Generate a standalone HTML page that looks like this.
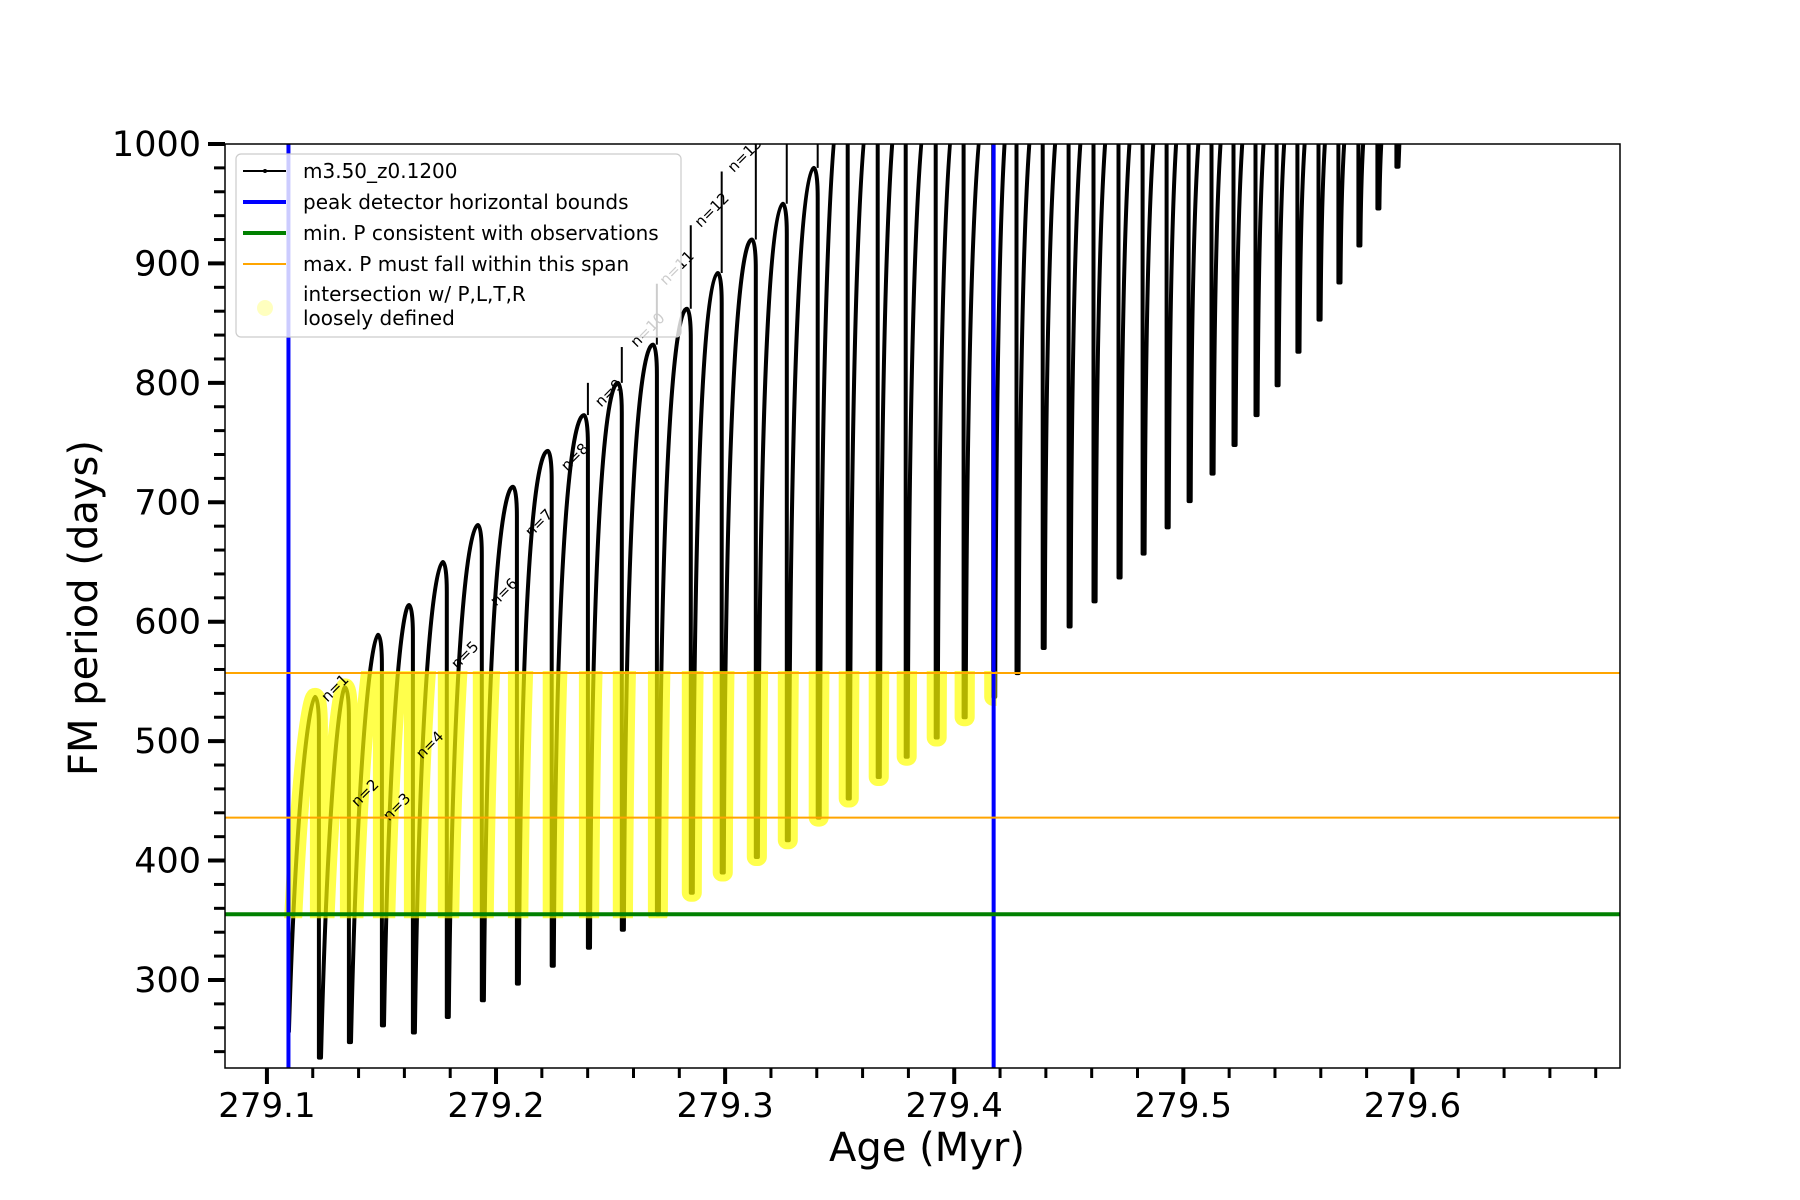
<!DOCTYPE html>
<html><head><meta charset="utf-8"><style>
html,body{margin:0;padding:0;background:#fff;}
svg{display:block;font-family:"DejaVu Sans","Liberation Sans",sans-serif;}
</style></head><body>
<svg id="chart" width="1800" height="1200" viewBox="0 0 1800 1200" xmlns="http://www.w3.org/2000/svg">
<defs>
<clipPath id="axclip"><rect x="225" y="144" width="1395" height="924"/></clipPath>
<clipPath id="yclip"><rect id="yclipRect" x="0" y="0" width="0" height="0"/></clipPath>
</defs>
<rect x="225" y="144" width="1395" height="924" fill="#fff"/>
<g id="series" clip-path="url(#axclip)"></g>
<g id="refs" clip-path="url(#axclip)"></g>
<rect x="225" y="144" width="1395" height="924" fill="none" stroke="#000" stroke-width="1.5"/>
<g id="ticks"></g>
<text x="927" y="1161" font-size="40" text-anchor="middle">Age (Myr)</text>
<text x="0" y="0" font-size="40" text-anchor="middle" transform="translate(97,608) rotate(-90)">FM period (days)</text>
<g id="legend">
<rect x="236" y="154" width="445" height="183" rx="5" fill="#fff" fill-opacity="0.8" stroke="#ccc" stroke-width="1.2"/>
<g><line x1="243" y1="171" x2="286" y2="171" stroke="#000" stroke-width="2"/><circle cx="265" cy="171" r="2" fill="#000"/><text x="303" y="178" font-size="20">m3.50_z0.1200</text></g>
<g><line x1="243" y1="202" x2="286" y2="202" stroke="#0000ff" stroke-width="4"/><text x="303" y="209" font-size="20">peak detector horizontal bounds</text></g>
<g><line x1="243" y1="233" x2="286" y2="233" stroke="#008000" stroke-width="4"/><text x="303" y="240" font-size="20">min. P consistent with observations</text></g>
<g><line x1="243" y1="264" x2="286" y2="264" stroke="#ffa500" stroke-width="2"/><text x="303" y="271" font-size="20">max. P must fall within this span</text></g>
<g><circle cx="265" cy="308" r="8" fill="#ffff00" fill-opacity="0.25"/><text x="303" y="301" font-size="20">intersection w/ P,L,T,R</text><text x="303" y="325" font-size="20">loosely defined</text></g>
</g>
</svg>
<script>
const startAge = 279.1096;
const startPeriod = 256;
const dropAges = [279.1227,279.1358,279.1502,279.1637,279.1785,279.1938,279.2091,279.2243,279.2401,279.2549,279.2702,279.2850,279.2985,279.3134,279.3269,279.3404,279.3535,279.3666,279.3788,279.3919,279.4041,279.4170,279.4272,279.4386,279.4499,279.4608,279.4717,279.4822,279.4927,279.5023,279.5123,279.5219,279.5315,279.5407,279.5498,279.5590,279.5677,279.5764,279.5847,279.5930];
const minPeriods = [235,248,262,256,269,283,297,312,327,342,355,373,390,403,417,436,452,470,487,503,520,537,557,578,596,617,637,657,679,701,724,748,773,798,826,853,884,915,946,981];
const peakPeriods = [537,545,589,614,650,681,713,743,773,800,832,862,892,920,950,980,1050,1050,1050,1050,1050,1050,1050,1050,1050,1050,1050,1050,1050,1050,1050,1050,1050,1050,1050,1050,1050,1050,1050,1050];
const spikePeriods = [null,null,null,null,null,null,null,null,800,830,883,932,977,1015,1015,1015,null,null,null,null,null,null,null,null,null,null,null,null,null,null,null,null,null,null,null,null,null,null,null,null];
const endAge = 279.5945;
const endPeriod = 1010;
const xTicks = [279.1,279.2,279.3,279.4,279.5,279.6];
const xTickLabels = ["279.1","279.2","279.3","279.4","279.5","279.6"];
const yTicks = [300,400,500,600,700,800,900,1000];
const yTickLabels = ["300","400","500","600","700","800","900","1000"];
const blueBounds = [279.1094, 279.4172];
const minPObs = 355;
const maxPSpan = [436, 557];
const nLabels = ["n=1","n=2","n=3","n=4","n=5","n=6","n=7","n=8","n=9","n=10","n=11","n=12","n=13"];
const nLabelAges = [279.1297,279.1428,279.1567,279.1711,279.1864,279.2034,279.2187,279.2344,279.2492,279.2662,279.2789,279.2942,279.3086];
const nLabelPeriods = [544.5,456.6,444.9,496.8,572.1,624.9,682.7,737.9,791.5,844.3,896.2,944.7,990.8];

const X0=225,X1=1620,Y0=144,Y1=1068;
const xMin=279.0817,xMax=279.6906,yMin=226.3,yMax=1000;
const xs=a=>X0+(a-xMin)/(xMax-xMin)*(X1-X0);
const ys=p=>Y1-(p-yMin)/(yMax-yMin)*(Y1-Y0);
const NS="http://www.w3.org/2000/svg";
function mk(tag,attrs,parent){const e=document.createElementNS(NS,tag);for(const k in attrs)e.setAttribute(k,attrs[k]);parent.appendChild(e);return e;}
const series=document.getElementById('series');
const refs=document.getElementById('refs');
const ticks=document.getElementById('ticks');

const riseOff=0.0009, peakOff=0.0017;
let d="";
function cycle(a0,m0,aNext,p,mNext,idx){
  const w=aNext-a0;
  const pk=aNext-Math.min(peakOff,w*0.3);
  const t=Math.min(1,Math.max(0,(idx-1)/6));
  const c1x=0.25+(0.07-0.25)*t, c1y=0.75+(0.85-0.75)*t, c2x=0.15+(0.3-0.15)*t;
  d+=` L${xs(a0).toFixed(1)},${ys(m0).toFixed(1)}`;
  d+=` C${xs(a0+c1x*w).toFixed(1)},${ys(m0+c1y*(p-m0)).toFixed(1)} ${xs(pk-c2x*w).toFixed(1)},${ys(p).toFixed(1)} ${xs(pk).toFixed(1)},${ys(p).toFixed(1)}`;
  d+=` C${xs(pk+0.6*(aNext-pk)).toFixed(1)},${ys(p).toFixed(1)} ${xs(aNext).toFixed(1)},${ys(p-10).toFixed(1)} ${xs(aNext).toFixed(1)},${ys(p-25).toFixed(1)}`;
  d+=` L${xs(aNext).toFixed(1)},${ys(mNext).toFixed(1)}`;
}
d=`M${xs(startAge).toFixed(1)},${ys(startPeriod).toFixed(1)}`;
cycle(startAge,startPeriod,dropAges[0],peakPeriods[0],minPeriods[0],0);
for(let i=0;i<dropAges.length-1;i++){
  cycle(dropAges[i]+riseOff,minPeriods[i],dropAges[i+1],peakPeriods[i+1],minPeriods[i+1],i+1);
}
{
  const i=dropAges.length-1;
  d+=` L${xs(dropAges[i]+riseOff).toFixed(1)},${ys(minPeriods[i]).toFixed(1)} L${xs(endAge).toFixed(1)},${ys(endPeriod).toFixed(1)}`;
}
const blackPath=mk('path',{d:d,fill:'none',stroke:'#000','stroke-width':4,'stroke-linejoin':'round'},series);


for(let i=0;i<dropAges.length;i++){
  if(spikePeriods[i]===null) continue;
  const s=mk('line',{x1:xs(dropAges[i]),x2:xs(dropAges[i]),y1:ys(peakPeriods[i]),y2:ys(spikePeriods[i]),stroke:'#000','stroke-width':2},series);
  
  
}
const cr=document.getElementById('yclipRect');
cr.setAttribute('x',X0);cr.setAttribute('y',ys(maxPSpan[1])-2);
cr.setAttribute('width',xs(blueBounds[1])-X0+3);
cr.setAttribute('height',ys(minPObs)-ys(maxPSpan[1])+6);
const yp=mk('path',{d:d,fill:'none',stroke:'#ffff00','stroke-opacity':0.7,'stroke-width':18,'stroke-linejoin':'round','stroke-linecap':'round','clip-path':'url(#yclip)'},series);


function hline(p,color,w,name){const l=mk('line',{x1:X0,x2:X1,y1:ys(p),y2:ys(p),stroke:color,'stroke-width':w},refs);}
function vline(a,color,w,name){const l=mk('line',{x1:xs(a),x2:xs(a),y1:Y0,y2:Y1,stroke:color,'stroke-width':w},refs);}
vline(blueBounds[0],'#0000ff',4,'peak-bound-left');
vline(blueBounds[1],'#0000ff',4,'peak-bound-right');
hline(minPObs,'#008000',4,'min-period-line');
hline(maxPSpan[0],'#ffa500',2,'max-period-lower');
hline(maxPSpan[1],'#ffa500',2,'max-period-upper');
for(let i=0;i<nLabels.length;i++){
  const x=xs(nLabelAges[i]),y=ys(nLabelPeriods[i]);
  const t=mk('text',{x:x,y:y+5,'font-size':15,'text-anchor':'middle',transform:`rotate(-45 ${x} ${y})`},series);
  t.textContent=nLabels[i];
  
  
}
for(let i=0;i<xTicks.length;i++){
  const x=xs(xTicks[i]);
  mk('line',{x1:x,x2:x,y1:Y1,y2:Y1+16,stroke:'#000','stroke-width':4},ticks);
  const t=mk('text',{x:x,y:1117,'font-size':34,'text-anchor':'middle'},ticks);
  t.textContent=xTickLabels[i];
  
  
}
for(let k=0;k<40;k++){
  const a=279.08+k*0.02;
  if(a<xMin||a>xMax) continue;
  if(Math.abs((a*10)-Math.round(a*10))<1e-6) continue;
  const x=xs(a);
  mk('line',{x1:x,x2:x,y1:Y1,y2:Y1+10,stroke:'#000','stroke-width':3},ticks);
}
for(let i=0;i<yTicks.length;i++){
  const y=ys(yTicks[i]);
  mk('line',{x1:X0-17,x2:X0,y1:y,y2:y,stroke:'#000','stroke-width':4},ticks);
  const t=mk('text',{x:201,y:y+12,'font-size':35,'text-anchor':'end'},ticks);
  t.textContent=yTickLabels[i];
  
  
}
for(let p=240;p<1000;p+=20){
  if(p%100===0) continue;
  const y=ys(p);
  mk('line',{x1:X0-11,x2:X0,y1:y,y2:y,stroke:'#000','stroke-width':3},ticks);
}
</script>
</body></html>
